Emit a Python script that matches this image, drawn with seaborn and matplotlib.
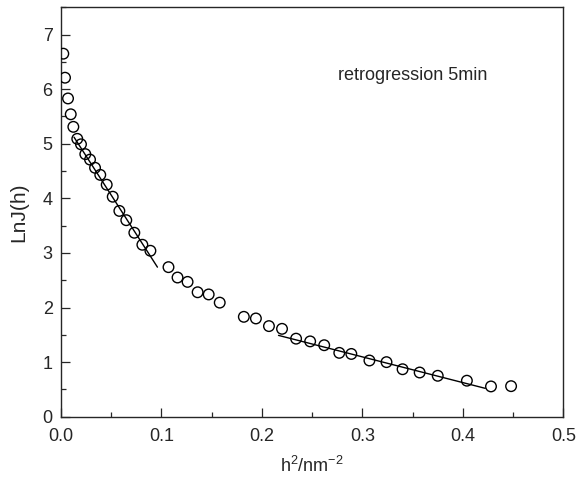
import matplotlib
matplotlib.use("Agg")
import matplotlib.pyplot as plt
import seaborn as sns
import pandas as pd
from matplotlib.ticker import MultipleLocator

# data
h2 = [0.0023, 0.0040, 0.0070, 0.0097, 0.0123, 0.0162, 0.0199, 0.0242, 0.0289, 0.0339,
      0.0391, 0.0455, 0.0515, 0.0581, 0.0650, 0.0730, 0.0810, 0.0890, 0.1070, 0.1160,
      0.1260, 0.1360, 0.1470, 0.1580, 0.1820, 0.1940, 0.2070, 0.2200, 0.2340, 0.2480,
      0.2620, 0.2770, 0.2890, 0.3070, 0.3240, 0.3400, 0.3570, 0.3750, 0.4040, 0.4280,
      0.4480]
lnJ = [6.65, 6.21, 5.83, 5.54, 5.31, 5.09, 4.99, 4.81, 4.71, 4.56,
       4.43, 4.25, 4.03, 3.77, 3.60, 3.37, 3.15, 3.04, 2.74, 2.55,
       2.47, 2.28, 2.24, 2.09, 1.83, 1.80, 1.66, 1.61, 1.43, 1.38,
       1.31, 1.17, 1.15, 1.03, 1.00, 0.87, 0.81, 0.75, 0.66, 0.555,
       0.56]

# linear fit segments (end points)
fit1_x = [0.013, 0.096]
fit1_y = [5.12, 2.74]
fit2_x = [0.2165, 0.4223]
fit2_y = [1.49, 0.52]

df = pd.DataFrame({"h2": h2, "lnJ": lnJ})

sns.set_style("ticks")
plt.rcParams["font.family"] = ["Liberation Sans", "DejaVu Sans"]
plt.rcParams["mathtext.fontset"] = "custom"
plt.rcParams["mathtext.rm"] = "Liberation Sans"
plt.rcParams["mathtext.it"] = "Liberation Sans"

fig = plt.figure(figsize=(5.77, 4.79), dpi=100)
ax = fig.add_axes([0.1057, 0.130, 0.8706, 0.8548])

sns.scatterplot(data=df, x="h2", y="lnJ", ax=ax, marker="o", s=58,
                facecolor="none", edgecolor="black", linewidth=1.0, zorder=3)
sns.lineplot(x=fit1_x, y=fit1_y, ax=ax, color="black", lw=1.0)
sns.lineplot(x=fit2_x, y=fit2_y, ax=ax, color="black", lw=1.0)

ax.text(0.276, 6.25, "retrogression 5min", fontsize=13, ha="left", va="center")

ax.set_xlim(0, 0.5)
ax.set_ylim(0, 7.5)
ax.xaxis.set_major_locator(MultipleLocator(0.1))
ax.xaxis.set_minor_locator(MultipleLocator(0.05))
ax.yaxis.set_major_locator(MultipleLocator(1))
ax.yaxis.set_minor_locator(MultipleLocator(0.5))
ax.tick_params(which="both", direction="in", top=False, right=False, labelsize=13, width=0.9)
ax.tick_params(which="major", length=6.5)
ax.tick_params(which="minor", length=3.5)
ax.tick_params(axis="x", which="major", pad=8)
ax.tick_params(axis="y", which="major", pad=6)
for sp in ax.spines.values():
    sp.set_visible(True)
    sp.set_linewidth(1.0)

ax.set_xlabel("h$^2$/nm$^{-2}$", fontsize=13, labelpad=8)
ax.set_ylabel("LnJ(h)", fontsize=15, labelpad=10)

plt.savefig("out.png", dpi=100)
